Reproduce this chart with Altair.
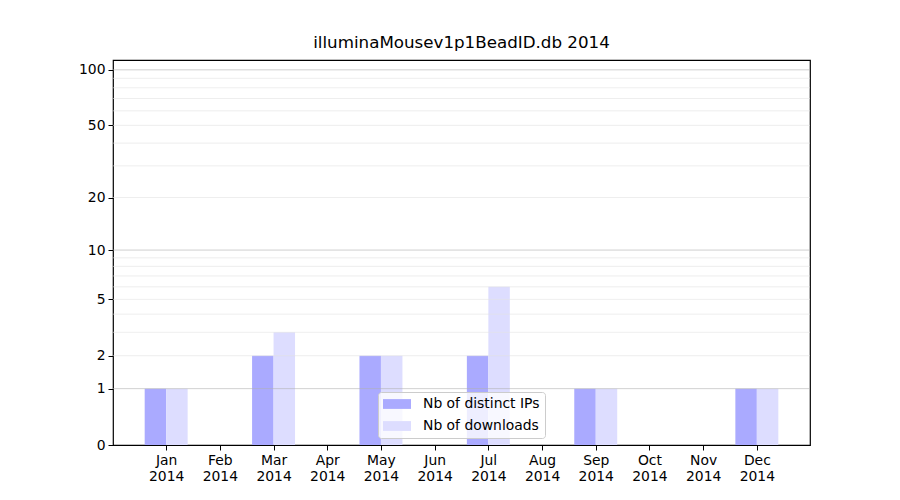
import altair as alt
import pandas as pd

months = ["Jan", "Feb", "Mar", "Apr", "May", "Jun", "Jul", "Aug", "Sep", "Oct", "Nov", "Dec"]
year = "2014"
distinct_ips = [1, 0, 2, 0, 2, 0, 2, 0, 1, 0, 0, 1]
downloads = [1, 0, 3, 0, 2, 0, 6, 0, 1, 0, 0, 1]
series_names = ["Nb of distinct IPs", "Nb of downloads"]
series_colors = ["#aaaaff", "#ddddff"]
y_ticks = [0, 1, 2, 5, 10, 20, 50, 100]
major_grid = [1, 10, 100]
minor_grid = [2, 3, 4, 5, 6, 7, 8, 9, 20, 30, 40, 50, 60, 70, 80, 90]
title = "illuminaMousev1p1BeadID.db 2014"

rows = []
for i, m in enumerate(months):
    rows.append({"idx": i, "series": series_names[0], "value": distinct_ips[i], "off": -0.4})
    rows.append({"idx": i, "series": series_names[1], "value": downloads[i], "off": 0.0})
df = pd.DataFrame(rows)

FONT = "DejaVu Sans"
yscale = alt.Scale(type="symlog", constant=1, domain=[0, 113], nice=False, zero=False)
xscale = alt.Scale(domain=[-0.99, 11.99], nice=False, zero=False)

month_arr = "[" + ",".join(f"'{m}'" for m in months) + "]"
label_expr = f"[{month_arr}[datum.value], '{year}']"

bars = alt.Chart(df).transform_calculate(
    x0="datum.idx + datum.off", x1="datum.idx + datum.off + 0.4"
).mark_bar(stroke=None).encode(
    x=alt.X("x0:Q", scale=xscale, axis=alt.Axis(
        values=list(range(12)), labelExpr=label_expr, title=None, grid=False,
        labelLineHeight=16, labelPadding=3, tickSize=5, tickColor="black",
        domain=False, labelColor="black", labelFontSize=13.9, labelFont=FONT)),
    x2="x1:Q",
    y=alt.Y("value:Q", scale=yscale, axis=alt.Axis(
        values=y_ticks, format="d", title=None, grid=False, tickSize=5, tickColor="black",
        domain=False, labelPadding=3, labelColor="black", labelFontSize=13.9, labelFont=FONT)),
    y2=alt.datum(0),
    color=alt.Color("series:N", scale=alt.Scale(domain=series_names, range=series_colors),
                    legend=alt.Legend(
                        title=None, orient="none", legendX=265, legendY=332,
                        symbolType="M-2,-0.7H2V0.7H-2Z", symbolSize=196, symbolOffset=7,
                        symbolStrokeWidth=0, labelFontSize=13.9, labelFont=FONT,
                        labelColor="black", labelOffset=19, rowPadding=8,
                        padding=5, fillColor="rgba(255,255,255,0.8)",
                        strokeColor="#cccccc", cornerRadius=3)),
)

major = alt.Chart(pd.DataFrame({"v": major_grid})).mark_rule(color="#b0b0b0", strokeWidth=0.8, opacity=0.75).encode(
    y=alt.Y("v:Q", scale=yscale)
)
minor = alt.Chart(pd.DataFrame({"v": minor_grid})).mark_rule(color="#e3e3e3", strokeWidth=0.8, opacity=0.75).encode(
    y=alt.Y("v:Q", scale=yscale)
)

chart = alt.layer(bars, minor, major).properties(
    width=697, height=385,
    title=alt.Title(title, fontSize=16.7, fontWeight="normal", font=FONT, color="black", offset=8),
    autosize=alt.AutoSizeParams(type="none"),
    padding={"left": 105, "top": 52, "right": 82, "bottom": 40},
).configure(font=FONT).configure_view(stroke="black", strokeWidth=1.2)

chart.save("out.html", embed_options={"renderer": "svg", "actions": False})
